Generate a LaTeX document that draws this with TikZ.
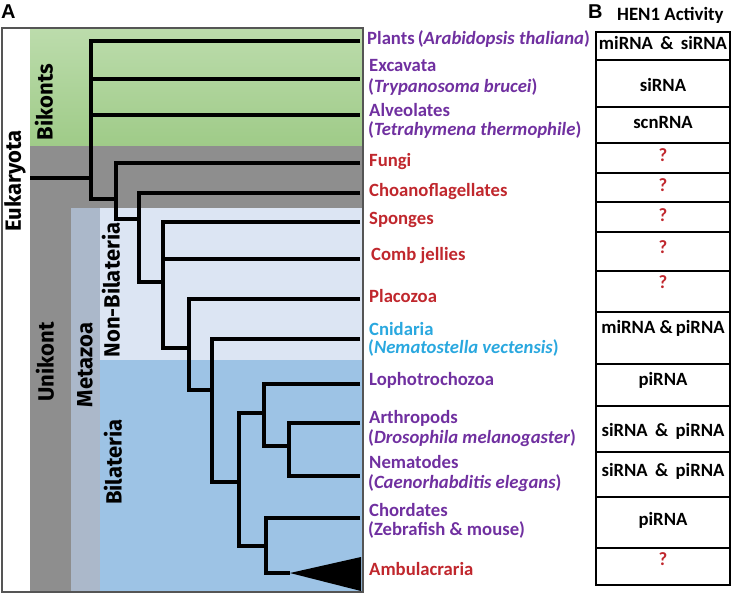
\documentclass[tikz,border=0pt]{standalone}
\usepackage{fontspec}
\setmainfont{Carlito}
\newfontfamily\vfont{Fira Sans}
\newfontfamily\pfont{Liberation Sans}
\definecolor{bikTop}{HTML}{BCDCAC}
\definecolor{bikBot}{HTML}{9FCB88}
\definecolor{unik}{HTML}{8E8E8E}
\definecolor{meta}{HTML}{ABB8CA}
\definecolor{nonbil}{HTML}{DCE5F3}
\definecolor{bil}{HTML}{9DC3E5}
\definecolor{framec}{HTML}{555555}
\definecolor{tpurple}{HTML}{7030A0}
\definecolor{tred}{HTML}{C0272D}
\definecolor{tcyan}{HTML}{2AA8DF}
\tikzset{
  branch/.style={line width=3.2pt, black, line join=miter},
  lab/.style={anchor=mid west, inner sep=0pt, font=\bfseries\fontsize{18.7}{20}\selectfont},
  vlab/.style={rotate=90, inner sep=0pt, font=\vfont\bfseries\fontsize{22}{24}\selectfont},
  cell/.style={draw=black, line width=1.2pt},
  celltxt/.style={anchor=mid, inner sep=0pt, font=\bfseries\fontsize{18.7}{20}\selectfont},
  qm/.style={celltxt, text=tred},
  panel/.style={inner sep=0pt, anchor=base west, font=\pfont\bfseries\fontsize{20}{24}\selectfont}
}
\begin{document}
\begin{tikzpicture}[x=1pt,y=-1pt]
\useasboundingbox (0,0) rectangle (731,595);
% panel letters
\node[panel] (pA) at (1,18) {A};
\node[panel] (pB) at (588,18) {B};
\node[anchor=mid west, inner sep=0pt, font=\bfseries\fontsize{18.8}{20}\selectfont] (hen) at (617,18) {HEN1 Activity};
% backgrounds
\fill[white] (2,28) rectangle (363,592);
\shade[top color=bikTop, bottom color=bikBot] (30,28) rectangle (363,146);
\fill[unik] (30,146) rectangle (363,592);
\fill[meta] (71,208) rectangle (100,592);
\fill[nonbil] (100,208) rectangle (363,360);
\fill[bil] (100,360) rectangle (363,592);
\draw[framec, line width=1.2pt] (2,28) rectangle (363,592);
% vertical labels
\node[vlab] (euk) at (15,181) {Eukaryota};
\node[vlab] (bik) at (44,102) {Bikonts};
\node[vlab] (uni) at (45,362) {Unikont};
\node[vlab] (met) at (85,365) {Metazoa};
\node[vlab] (nbi) at (111,290) {Non-Bilateria};
\node[vlab] (bia) at (113,462) {Bilateria};
% tree coordinates
\coordinate (root) at (30,178);
\coordinate (n1) at (91,178);
\coordinate (n2) at (116,199);
\coordinate (n3) at (139,219);
\coordinate (n4) at (163,282);
\coordinate (n5) at (189,348);
\coordinate (n6) at (212,390);
\coordinate (n7) at (239,482);
\coordinate (n8) at (264,413);
\coordinate (n9) at (289,446);
\coordinate (n10) at (266,546);
\coordinate (tri) at (290,573);
\coordinate (tPla) at (360,41);
\coordinate (tExc) at (360,79);
\coordinate (tAlv) at (360,115);
\coordinate (tFun) at (360,163);
\coordinate (tCho) at (360,193);
\coordinate (tSpo) at (360,222);
\coordinate (tCom) at (360,259);
\coordinate (tPlc) at (360,299);
\coordinate (tCni) at (360,339);
\coordinate (tLop) at (360,384);
\coordinate (tArt) at (360,423);
\coordinate (tNem) at (360,476);
\coordinate (tCho2) at (360,518);
% branches
\draw[branch] (root) -- (n1);
\draw[branch] (tPla) -| (n1) |- (n2);
\draw[branch] (n1 |- tExc) -- (tExc);
\draw[branch] (n1 |- tAlv) -- (tAlv);
\draw[branch] (tFun) -| (n2) |- (n3);
\draw[branch] (tCho) -| (n3) |- (n4);
\draw[branch] (tSpo) -| (n4) |- (n5);
\draw[branch] (n4 |- tCom) -- (tCom);
\draw[branch] (tPlc) -| (n5) |- (n6);
\draw[branch] (tCni) -| (n6) |- (n7);
\draw[branch] (n8) -| (n7) |- (n10);
\draw[branch] (tLop) -| (n8) |- (n9);
\draw[branch] (tArt) -| (n9) |- (tNem);
\draw[branch] (tCho2) -| (n10) |- (tri);
\fill[black] (tri) -- (361,557) -- (361,591) -- cycle;
% taxon labels
\node[lab, text=tpurple] (lPla) at (367,42) {Plants\,(\textit{Arabidopsis thaliana})};
\node[lab, text=tpurple] (lExc1) at (369,69) {Excavata};
\node[lab, text=tpurple] (lExc2) at (368,90) {(\textit{Trypanosoma brucei})};
\node[lab, text=tpurple] (lAlv1) at (369,114) {Alveolates};
\node[lab, text=tpurple] (lAlv2) at (368,133) {(\textit{Tetrahymena thermophile})};
\node[lab, text=tred] (lFun) at (369,164) {Fungi};
\node[lab, text=tred] (lCho) at (369,194) {Choanoflagellates};
\node[lab, text=tred] (lSpo) at (369,222) {Sponges};
\node[lab, text=tred] (lCom) at (371,258) {Comb jellies};
\node[lab, text=tred] (lPlc) at (369,300) {Placozoa};
\node[lab, text=tcyan] (lCni1) at (369,333) {Cnidaria};
\node[lab, text=tcyan] (lCni2) at (368,351) {(\textit{Nematostella vectensis})};
\node[lab, text=tpurple] (lLop) at (369,383) {Lophotrochozoa};
\node[lab, text=tpurple] (lArt1) at (369,421) {Arthropods};
\node[lab, text=tpurple] (lArt2) at (368,441) {(\textit{Drosophila melanogaster})};
\node[lab, text=tpurple] (lNem1) at (369,466) {Nematodes};
\node[lab, text=tpurple] (lNem2) at (368,486) {(\textit{Caenorhabditis elegans})};
\node[lab, text=tpurple] (lCrd1) at (369,514) {Chordates};
\node[lab, text=tpurple] (lCrd2) at (368,533) {(Zebrafish \& mouse)};
\node[lab, text=tred] (lAmb) at (369,573) {Ambulacraria};
% table
\foreach \a/\b in {32/60,60/107,107/143,143/173,173/202,202/232,232/271,271/312,312/364,364/406,406/452,452/497,497/548,548/585}
  \draw[cell] (596,\a) rectangle (730,\b);
\node[celltxt] (r1) at (663,47) {miRNA \,\& \,siRNA};
\node[celltxt] (r2) at (663,89) {siRNA};
\node[celltxt] (r3) at (663,126) {scnRNA};
\node[qm] (r4) at (663,159) {?};
\node[qm] (r5) at (663,189) {?};
\node[qm] (r6) at (663,219) {?};
\node[qm] (r7) at (663,251) {?};
\node[qm] (r8) at (663,286) {?};
\node[celltxt] (r9) at (663,331) {miRNA \&\,piRNA};
\node[celltxt] (r10) at (663,383) {piRNA};
\node[celltxt] (r11) at (663,434) {siRNA \,\& \,piRNA};
\node[celltxt] (r12) at (663,474) {siRNA \,\& \,piRNA};
\node[celltxt] (r13) at (663,523) {piRNA};
\node[qm] (r14) at (663,563) {?};
\end{tikzpicture}
\end{document}
